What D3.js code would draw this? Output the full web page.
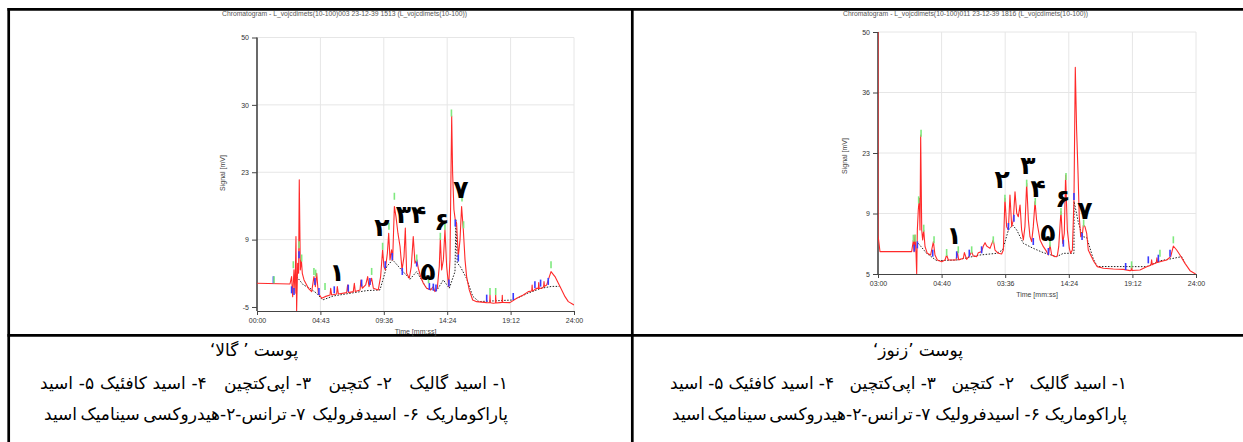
<!DOCTYPE html>
<html>
<head>
<meta charset="utf-8">
<script src="https://cdn.jsdelivr.net/npm/d3@7"></script>
<style>
  html, body { margin: 0; padding: 0; background: #fff; }
  svg { display: block; font-family: "Liberation Sans", Arial, sans-serif; }
  .axis path, .axis line { stroke: #444; }
  .axis text { fill: #333; font-size: 7px; font-family: "Liberation Sans", Arial, sans-serif; }
  .caption { font-family: "DejaVu Sans", sans-serif; fill: #000; }
</style>
</head>
<body>
<svg id="fig" width="1243" height="442"></svg>
<script>
// ---- Chromatogram data: [time (min), signal (mV)] ----
const galaSignal = [
  [0,-0.16],[2.50,-0.30],[2.62,1.20],[2.70,-2.89],[2.80,2.57],[2.88,-2.21],[2.95,9.38],[3.00,-5.75],
  [3.08,3.93],[3.15,1.88],[3.20,20.97],[3.28,2.57],[3.36,4.61],[3.43,1.88],[3.56,0.52],[3.89,-1.18],
  [4.14,-1.86],[4.31,1.2],[4.42,-0.84],[4.52,1.88],[4.64,-2.21],[4.90,-3.23],[5.15,-2.89],[5.53,-2.55],
  [5.58,-1.18],[5.65,-2.55],[6.03,-2.34],[6.08,-0.84],[6.16,-2.34],[6.79,-2.07],[6.86,-0.50],[6.94,-2.07],
  [7.29,-1.86],[7.37,-0.16],[7.44,-1.86],[7.80,-1.52],[7.87,0.52],[7.97,-1.18],[8.23,-0.50],[8.38,1.2],
  [8.48,-0.84],[8.68,0.86],[8.81,-1.18],[9.18,-1.52],[9.36,1.2],[9.51,6.66],[9.61,3.25],[9.71,2.57],
  [9.87,5.97],[9.97,10.06],[10.07,4.61],[10.19,6.66],[10.27,4.61],[10.40,15.52],[10.52,13.47],[10.67,10.06],
  [10.83,7.34],[10.98,2.57],[11.13,5.29],[11.23,11.09],[11.33,1.88],[11.53,0.86],[11.68,3.25],[11.83,9.38],
  [11.96,3.93],[12.09,4.61],[12.21,2.91],[12.39,1.2],[12.59,-0.16],[12.84,-1.18],[13.15,-1.52],[13.35,-0.84],
  [13.47,-1.86],[13.65,-1.18],[13.80,3.25],[13.88,9.04],[13.98,2.57],[14.11,4.61],[14.23,10.75],[14.36,3.25],
  [14.51,-0.84],[14.61,4.61],[14.69,23.02],[14.74,34.0],[14.81,22.34],[14.91,14.84],[15.01,12.79],[15.11,12.11],
  [15.24,5.29],[15.37,8.70],[15.49,15.52],[15.62,10.75],[15.75,4.61],[15.87,1.20],[16.07,-1.52],[16.33,-3.57],
  [16.63,-3.91],[17.39,-4.11],[17.62,-4.15],[17.64,-2.55],[17.67,-4.15],[17.89,-4.25],[18.05,-4.2],[18.07,-2.55],
  [18.10,-4.2],[18.39,-4.11],[18.55,-4.1],[18.57,-2.6],[18.60,-4.1],[19.15,-4.11],[19.66,-3.23],[20.16,-2.55],
  [20.54,-1.86],[20.80,-1.75],[20.83,-0.5],[20.86,-1.7],[20.92,-1.66],[21.17,-1.18],[21.30,-1.2],[21.33,0.0],
  [21.36,-1.2],[21.55,-1.18],[21.70,-0.9],[21.73,0.2],[21.76,-0.8],[21.93,-0.50],[22.26,2.23],[22.56,1.20],
  [22.94,-0.84],[23.32,-2.89],[23.57,-3.91],[24.0,-4.59]
];
const galaBaseline = [
  [3.00,1.20],[3.51,-0.50],[4.01,-1.18],[4.52,-2.21],[4.97,-3.57],[5.78,-2.75],[7.04,-2.21],[8.30,-1.66],
  [9.31,-1.52],[9.82,3.25],[10.27,4.61],[10.83,2.91],[11.58,0.66],[12.09,2.23],[12.84,-1.18],[13.60,-1.66],
  [14.11,0.52],[14.56,-1.18],[14.99,2.23],[15.06,12.79],[15.16,4.0],[15.40,3.2],[15.87,0.8],[16.33,-2.8],
  [16.8,-3.9],[19.40,-3.57],[20.5,-2.2],[21.5,-1.2],[22.3,-0.8],[22.9,-0.8]
];
const galaPeakTops = [
  [1.29,-0.16],[2.75,2.91],[3.18,7.0],[3.38,4.27],[4.31,1.54],[4.44,1.20],[5.15,-1.52],[8.68,1.54],
  [9.51,6.66],[9.99,10.75],[10.40,16.88],[12.09,4.27],[12.99,-0.16],[13.88,8.70],[14.23,10.75],[14.72,33.9],
  [15.52,16.54],[15.64,11.09],[17.64,-2.55],[18.07,-2.55],[22.26,2.91]
];
const galaPeakBounds = [
  [1.24,-0.16],[2.62,-2.21],[2.80,-2.55],[3.18,4.95],[4.39,-0.50],[4.69,-2.55],[5.85,-2.21],[6.91,-1.86],
  [7.92,-0.84],[8.55,-0.50],[9.71,2.91],[10.24,4.61],[11.0,1.54],[12.09,3.25],[13.05,-1.52],[13.35,-1.66],
  [13.55,-1.86],[14.53,-0.84],[15.01,11.43],[15.24,4.27],[17.39,-3.91],[19.40,-3.57],[21.04,-1.18],
  [21.47,-0.84],[22.05,-0.50]
];
const galaPeakNumbers = ["۱", "۲", "۳۴", "۵", "۶", "۷"];
const galaPeakAnchors = [[6.06,1.95],[9.46,11.15],[11.66,13.81],[12.94,2.16],[14.0,12.38],[15.44,18.92]];

const zonouzSignal = [
  [0,50],[0,3.86],[0.15,0.08],[2.54,0.08],[2.67,2.73],[2.72,0.08],[2.79,3.86],[2.87,-0.30],[2.92,-5.0],
  [2.97,5.0],[3.04,9.55],[3.12,12.20],[3.17,5.0],[3.22,26.59],[3.30,5.0],[3.37,2.73],[3.45,5.0],[3.55,1.21],
  [3.72,-0.30],[3.97,-0.68],[4.18,2.35],[4.30,-0.68],[4.48,-1.82],[4.81,-2.20],[5.06,-1.82],[5.18,-0.68],
  [5.31,-1.82],[5.89,-1.82],[5.99,0.08],[6.09,-1.82],[6.44,-1.44],[6.52,-0.15],[6.69,-1.67],[6.94,-0.68],
  [7.07,0.08],[7.19,-0.91],[7.45,-1.06],[7.57,-0.15],[7.82,0.08],[7.95,1.36],[8.08,2.12],[8.20,1.36],
  [8.45,0.83],[8.70,2.73],[8.83,0.45],[9.08,-0.30],[9.33,-0.45],[9.46,0.45],[9.58,12.20],[9.71,5.76],
  [9.84,5.0],[9.96,12.95],[10.09,5.76],[10.21,7.27],[10.34,13.71],[10.47,8.79],[10.59,8.03],[10.72,10.68],
  [10.84,5.0],[10.97,2.73],[11.09,5.76],[11.22,15.61],[11.35,7.27],[11.47,3.48],[11.60,2.35],[11.72,5.76],
  [11.85,11.44],[11.97,7.27],[12.10,5.0],[12.23,2.73],[12.48,1.21],[12.73,0.08],[12.86,-0.68],[12.98,1.59],
  [13.11,-0.68],[13.36,-1.06],[13.53,-0.91],[13.64,1.21],[13.74,6.14],[13.81,9.17],[13.94,1.97],[14.06,4.24],
  [14.16,17.50],[14.29,5.0],[14.44,0.83],[14.54,-0.30],[14.67,0.45],[14.79,11.82],[14.89,42.0],[14.99,27.73],
  [15.09,18.64],[15.19,8.03],[15.30,3.48],[15.42,3.86],[15.50,6.14],[15.62,5.76],[15.75,4.24],[15.87,0.45],
  [16.05,-0.68],[16.30,-2.20],[16.55,-3.33],[17.01,-3.71],[17.76,-3.86],[18.52,-3.94],[19.02,-4.24],[19.10,-4.2],
  [19.14,-3.0],[19.18,-4.2],[19.77,-4.09],[20.28,-3.33],[20.6,-3.0],[20.65,-1.8],[20.7,-2.9],[20.78,-2.73],
  [21.0,-2.5],[21.05,-1.3],[21.1,-2.4],[21.28,-2.20],[21.79,-1.82],[22.09,-1.06],[22.29,1.36],[22.54,0.45],
  [22.79,-0.68],[23.17,-2.58],[23.55,-4.24],[23.97,-5.0]
];
const zonouzBaseline = [
  [3.04,1.97],[3.67,-0.30],[4.43,-1.97],[5.94,-1.82],[7.70,-0.68],[8.96,-0.30],[9.41,0.45],[9.84,5.0],
  [10.16,6.14],[10.47,5.0],[10.97,1.97],[11.72,0.83],[12.48,-0.15],[13.48,-1.06],[13.99,-0.30],[14.62,-0.30],
  [14.79,-0.3],[14.80,11.5],[15.1,7.0],[15.42,3.5],[15.75,3.3],[16.25,-1.6],[16.55,-3.3],[20.28,-3.33],
  [21.28,-2.0],[22.04,-1.59],[22.92,-1.06],[23.17,-2.58]
];
const zonouzPeakTops = [
  [2.67,2.35],[2.82,2.35],[3.07,11.06],[3.25,26.21],[3.45,4.62],[4.23,1.97],[5.18,-0.91],[6.06,-0.30],
  [7.07,-0.30],[8.70,1.97],[9.58,11.44],[11.22,14.85],[11.87,10.68],[12.98,1.21],[13.81,8.41],[14.19,16.36],
  [15.52,5.76],[19.14,-3.71],[21.28,-1.06],[22.29,1.97]
];
const zonouzPeakBounds = [
  [2.74,0.08],[2.97,0.83],[4.13,-1.06],[5.94,-1.44],[6.89,-1.06],[7.82,-0.30],[9.84,5.0],[10.26,6.89],
  [11.72,1.59],[12.86,-0.68],[13.99,1.21],[14.79,11.82],[15.40,2.73],[18.69,-4.09],[20.40,-2.58],
  [21.16,-2.20],[22.04,-1.06]
];
const zonouzPeakNumbers = ["۱", "۲", "۳", "۴", "۵", "۶", "۷"];
const zonouzPeakAnchors = [[5.74,3.86],[9.36,16.59],[11.32,19.55],[12.08,14.32],[12.83,4.32],[13.96,12.27],[15.62,9.32]];

// ---- Axis ticks ----
const timeTickValues = [0, 4.8, 9.6, 14.4, 19.2, 24];
const galaTimeLabels = ["00:00", "04:43", "09:36", "14:24", "19:12", "24:00"];
const zonouzTimeLabels = ["03:00", "04:40", "03:36", "14:24", "19:12", "24:00"];
const signalTickValues = [-5, 8.75, 22.5, 36.25, 50];
const galaSignalLabels = ["-5", "9", "23", "30", "50"];
const zonouzSignalLabels = ["5", "9", "23", "36", "50"];

const galaTitle = "Chromatogram - L_vojcdimets(10-100)003 23-12-39 1513 (L_vojcdimets(10-100))";
const zonouzTitle = "Chromatogram - L_vojcdimets(10-100)011 23-12-39 1816 (L_vojcdimets(10-100))";

// ---- Captions ----
const galaCaption = "پوست ’ گالا‘";
const zonouzCaption = "پوست ’زنوز‘";
const compoundLine1 = "۱- اسید گالیک   ۲- کتچین   ۳- اپی‌کتچین   ۴- اسید کافئیک ۵- اسید";
const compoundLine2 = "پاراکوماریک  ۶-  اسیدفرولیک  ۷- ترانس-۲-هیدروکسی سینامیک اسید";

const svg = d3.select("#fig");

// ---- Table frame ----
const frame = svg.append("g").attr("stroke", "#000").attr("stroke-width", 2.7);
frame.append("line").attr("x1", 7.5).attr("x2", 1243).attr("y1", 9.3).attr("y2", 9.3);
frame.append("line").attr("x1", 8.7).attr("x2", 8.7).attr("y1", 8).attr("y2", 442);
frame.append("line").attr("x1", 632.3).attr("x2", 632.3).attr("y1", 8).attr("y2", 442);
frame.append("line").attr("x1", 7.5).attr("x2", 1243).attr("y1", 335.3).attr("y2", 335.3);

function drawPanel(p, idx) {
  const x = d3.scaleLinear().domain([0, 24]).range([p.left, p.right]);
  const y = d3.scaleLinear().domain([p.yMin, 50]).range([p.bottom, p.top]);
  const g = svg.append("g");

  const clipId = "clip" + idx;
  svg.append("clipPath").attr("id", clipId).append("rect")
    .attr("x", p.left).attr("y", y(50) - 1).attr("width", p.right - p.left).attr("height", p.bottom - y(50) + 1);

  // grid
  g.append("g").selectAll("line").data(timeTickValues.slice(1)).join("line")
    .attr("x1", d => x(d)).attr("x2", d => x(d)).attr("y1", y(50)).attr("y2", p.bottom)
    .attr("stroke", "#e6e6e6").attr("stroke-width", 1);
  g.append("g").selectAll("line").data(signalTickValues.slice(1)).join("line")
    .attr("x1", p.left).attr("x2", p.right).attr("y1", d => y(d)).attr("y2", d => y(d))
    .attr("stroke", "#e6e6e6").attr("stroke-width", 1);

  // title
  g.append("text").attr("x", p.titleX).attr("y", 16).attr("font-size", 6.5).attr("fill", "#555")
    .attr("textLength", 245).attr("lengthAdjust", "spacingAndGlyphs").text(p.title);

  // axes
  const xAxis = d3.axisBottom(x).tickValues(timeTickValues)
    .tickFormat((d, i) => p.timeLabels[i]).tickSize(4).tickSizeOuter(0).tickPadding(3);
  g.append("g").attr("class", "axis").attr("transform", `translate(0,${p.bottom})`).call(xAxis)
    .call(a => a.select(".domain").attr("stroke-width", 1.2));
  const yAxis = d3.axisLeft(y).tickValues(signalTickValues)
    .tickFormat((d, i) => p.signalLabels[i]).tickSize(5).tickSizeOuter(0).tickPadding(3);
  g.append("g").attr("class", "axis").attr("transform", `translate(${p.left},0)`).call(yAxis)
    .call(a => a.select(".domain").attr("stroke-width", 1.6).attr("d", `M0,${y(50)}V${p.bottom}`));

  g.append("text").attr("x", (p.left + p.right) / 2).attr("y", p.bottom + 23)
    .attr("text-anchor", "middle").attr("font-size", 7).attr("fill", "#444").text("Time [mm:ss]");
  g.append("text").attr("transform", `translate(${p.yLabelX},${p.yLabelY}) rotate(-90)`)
    .attr("text-anchor", "middle").attr("font-size", 7).attr("fill", "#444").text("Signal [mV]");

  const plot = g.append("g").attr("clip-path", `url(#${clipId})`);
  const line = d3.line().x(d => x(d[0])).y(d => y(d[1]));

  // integration baseline
  plot.append("path").attr("d", line(p.baseline)).attr("fill", "none")
    .attr("stroke", "#222").attr("stroke-width", 1).attr("stroke-dasharray", "1.5,1.5");

  // detector signal
  plot.append("path").attr("d", line(p.signal)).attr("fill", "none")
    .attr("stroke", "#ff2a2a").attr("stroke-width", 1.1).attr("stroke-linejoin", "round");

  // peak start/end markers
  plot.append("g").selectAll("line").data(p.bounds).join("line")
    .attr("x1", d => x(d[0])).attr("x2", d => x(d[0]))
    .attr("y1", d => y(d[1])).attr("y2", d => y(d[1]) - 7)
    .attr("stroke", "#3a3aff").attr("stroke-width", 1.6);
  // peak apex markers
  plot.append("g").selectAll("line").data(p.tops).join("line")
    .attr("x1", d => x(d[0])).attr("x2", d => x(d[0]))
    .attr("y1", d => y(d[1])).attr("y2", d => y(d[1]) - 7)
    .attr("stroke", "#7fe97f").attr("stroke-width", 1.6);

  // peak numbers
  g.append("g").selectAll("text").data(p.numbers).join("text")
    .attr("x", (d, i) => x(p.anchors[i][0])).attr("y", (d, i) => y(p.anchors[i][1]))
    .attr("text-anchor", "middle").attr("dominant-baseline", "central")
    .attr("font-family", "DejaVu Sans, sans-serif").attr("font-weight", "bold")
    .attr("font-size", 25).attr("fill", "#000").text(d => d);
}

drawPanel({
  left: 257, right: 574, top: 37.5, bottom: 311, yMin: -5.82,
  signal: galaSignal, baseline: galaBaseline, tops: galaPeakTops, bounds: galaPeakBounds,
  numbers: galaPeakNumbers, anchors: galaPeakAnchors,
  timeLabels: galaTimeLabels, signalLabels: galaSignalLabels,
  title: galaTitle, titleX: 222, yLabelX: 225, yLabelY: 173
}, 0);

drawPanel({
  left: 878, right: 1196, top: 32, bottom: 274, yMin: -5,
  signal: zonouzSignal, baseline: zonouzBaseline, tops: zonouzPeakTops, bounds: zonouzPeakBounds,
  numbers: zonouzPeakNumbers, anchors: zonouzPeakAnchors,
  timeLabels: zonouzTimeLabels, signalLabels: zonouzSignalLabels,
  title: zonouzTitle, titleX: 843, yLabelX: 847, yLabelY: 156
}, 1);

// ---- Captions: words set right to left, one text run per word ----
// A line given a width is justified across it; otherwise it is centred with plain spaces.
function caption(text, y, opts) {
  const words = text.split(/ +/);
  const gaps = (text.match(/ +/g) || []).map(s => s.length);
  const g = svg.append("g");
  const nodes = words.map(w => g.append("text").attr("class", "caption")
    .attr("direction", "rtl").attr("text-anchor", "middle")
    .attr("y", y).attr("font-size", 17).text(w));
  const widths = nodes.map(n => n.node().getComputedTextLength());
  const total = d3.sum(widths);
  const gapSum = d3.sum(gaps);
  let unit, right;
  if (opts.width) {
    unit = (opts.width - total) / gapSum;
    right = opts.right;
  } else {
    unit = 5;
    right = opts.center + (total + unit * gapSum) / 2;
  }
  let cx = right;
  nodes.forEach((n, i) => {
    n.attr("x", cx - widths[i] / 2);
    cx -= widths[i] + (i < gaps.length ? gaps[i] * unit : 0);
  });
}
caption(galaCaption, 356, { center: 254 });
caption(compoundLine1, 389, { right: 508, width: 468 });
caption(compoundLine2, 420, { right: 508, width: 464 });
caption(zonouzCaption, 356, { center: 918 });
caption(compoundLine1, 389, { right: 1127, width: 457 });
caption(compoundLine2, 420, { right: 1127, width: 455 });
</script>
</body>
</html>
